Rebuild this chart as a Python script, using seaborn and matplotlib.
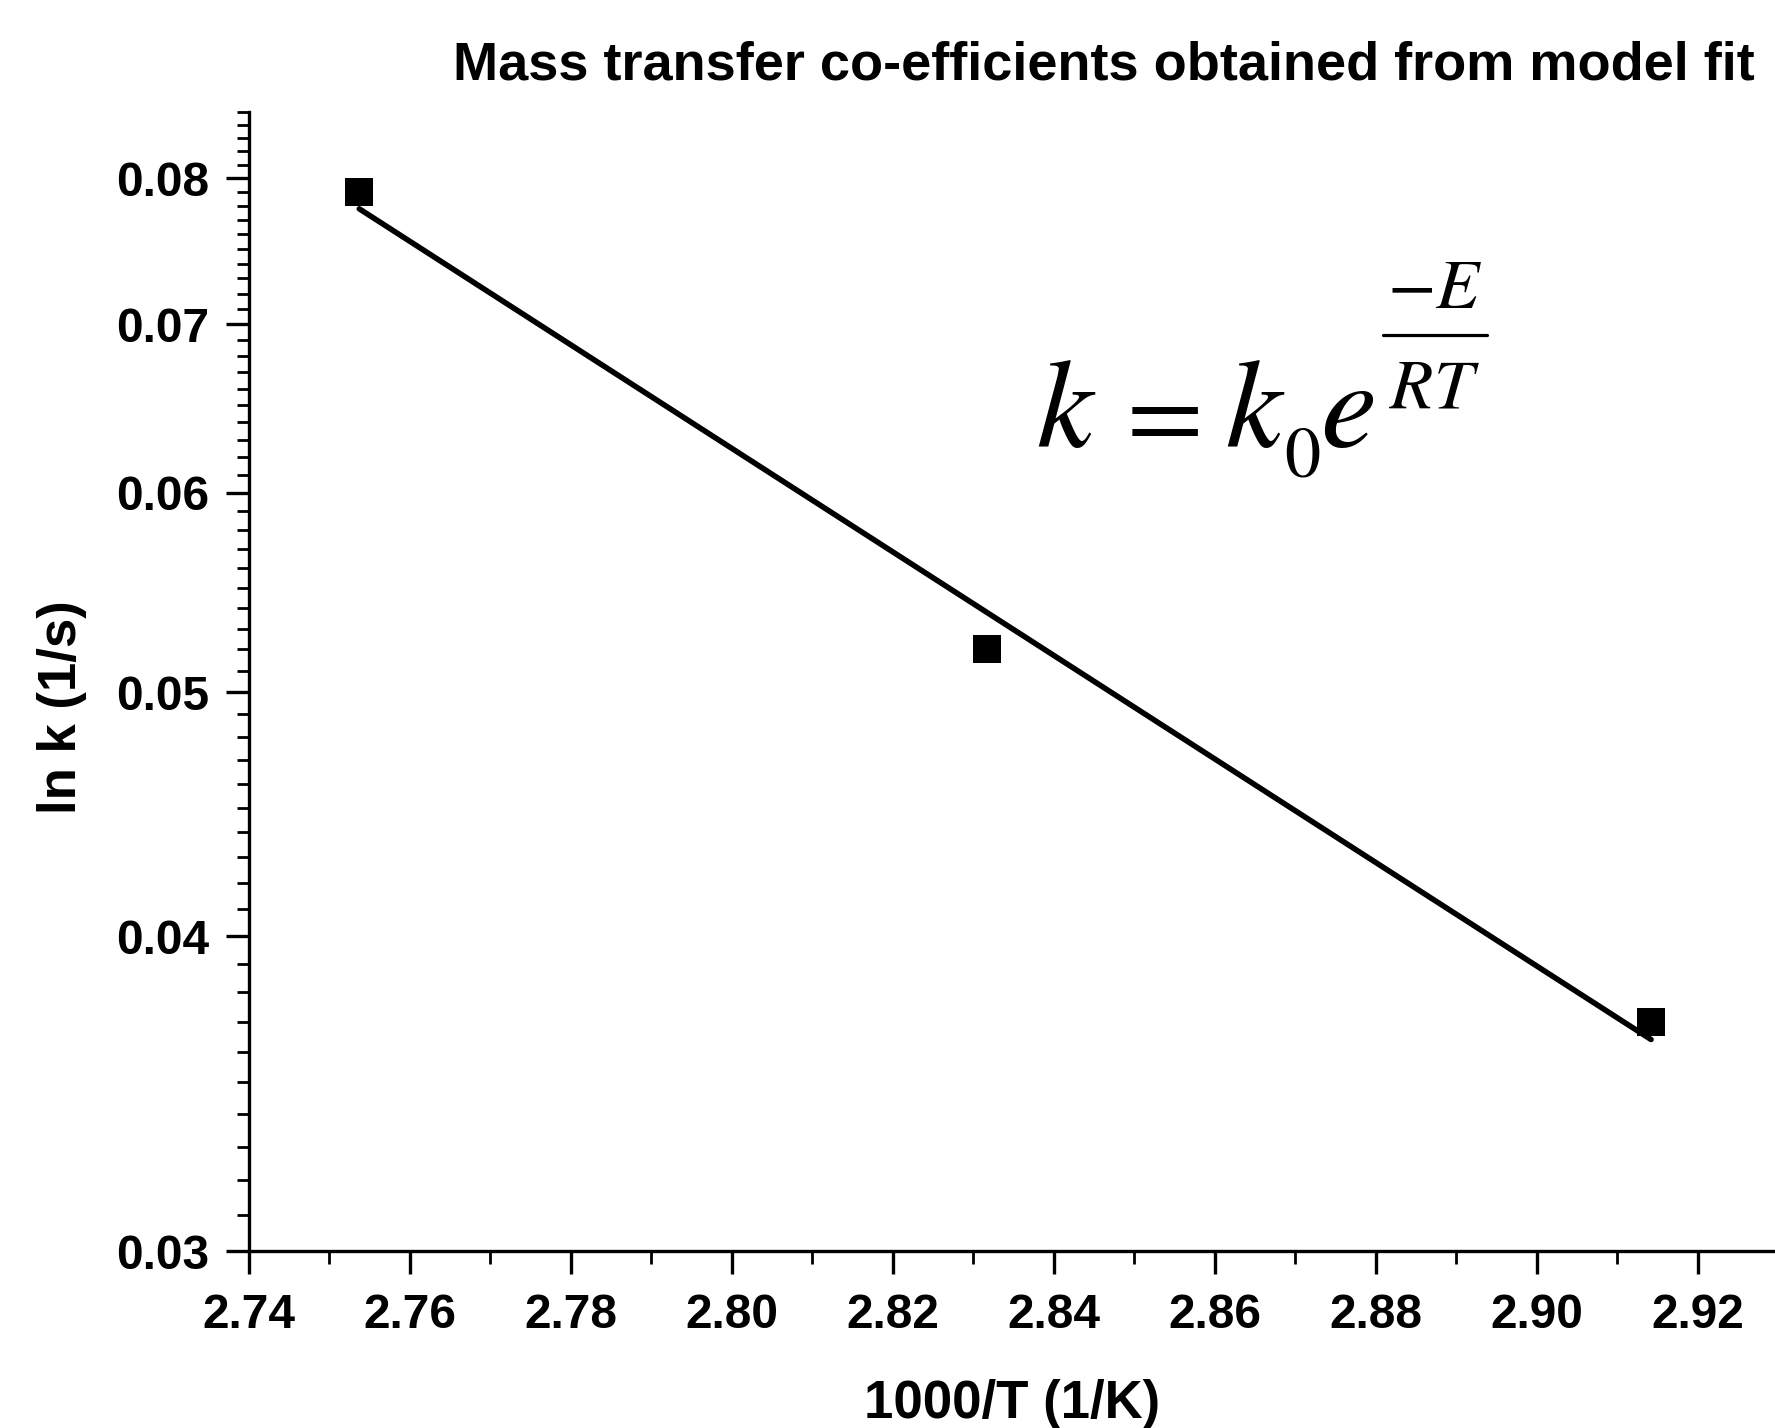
import matplotlib
matplotlib.use("Agg")
import matplotlib.pyplot as plt
import seaborn as sns
import pandas as pd
from matplotlib.lines import Line2D
from matplotlib.ticker import FixedLocator, MultipleLocator, FixedFormatter, NullFormatter

# Data
inv_T = [2.7537, 2.8317, 2.9142]          # 1000/T (1/K)
k_vals = [0.0790, 0.0520, 0.0370]         # k (1/s)
fit_x = [2.7537, 2.9142]                  # fitted line end points
fit_y = [0.0778, 0.0364]

x_ticks = [2.74, 2.76, 2.78, 2.80, 2.82, 2.84, 2.86, 2.88, 2.90, 2.92]
x_tick_labels = ["2.74", "2.76", "2.78", "2.80", "2.82", "2.84", "2.86", "2.88", "2.90", "2.92"]
y_ticks = [0.03, 0.04, 0.05, 0.06, 0.07, 0.08]
y_tick_labels = ["0.03", "0.04", "0.05", "0.06", "0.07", "0.08"]

title = "Mass transfer co-efficients obtained from model fit"
xlabel = "1000/T (1/K)"
ylabel = "ln k (1/s)"

pts = pd.DataFrame({"x": inv_T, "k": k_vals})
fit = pd.DataFrame({"x": fit_x, "k": fit_y})

sns.set_theme(style="ticks")
plt.rcParams["font.family"] = ["Liberation Sans", "DejaVu Sans"]
plt.rcParams["text.color"] = "black"
plt.rcParams["axes.labelcolor"] = "black"
plt.rcParams["xtick.color"] = "black"
plt.rcParams["ytick.color"] = "black"

W, H = 1775, 1428
fig = plt.figure(figsize=(W / 100, H / 100), dpi=100)
fig.patch.set_facecolor("white")
ax = fig.add_axes([249 / W, 1 - 1251 / H, 1 - 249 / W, (1251 - 112) / H])
ax.set_facecolor("white")

sns.lineplot(data=fit, x="x", y="k", ax=ax, color="black", linewidth=4.0, estimator=None, sort=False)
sns.scatterplot(data=pts, x="x", y="k", ax=ax, marker="s", s=380, color="black", linewidth=0, zorder=3)

ax.set_yscale("log")
ax.set_xlim(2.74, 2.9296)
ax.set_ylim(0.03, 0.085)

ax.xaxis.set_major_locator(FixedLocator(x_ticks))
ax.xaxis.set_major_formatter(FixedFormatter(x_tick_labels))
ax.xaxis.set_minor_locator(MultipleLocator(0.01))
ax.yaxis.set_major_locator(FixedLocator(y_ticks))
ax.yaxis.set_major_formatter(FixedFormatter(y_tick_labels))
ax.yaxis.set_minor_locator(MultipleLocator(0.001))
ax.yaxis.set_minor_formatter(NullFormatter())

for s in ["top", "right"]:
    ax.spines[s].set_visible(False)
for s in ["left", "bottom"]:
    ax.spines[s].set_linewidth(2.4)
    ax.spines[s].set_color("black")

ax.tick_params(axis="both", which="major", direction="out", length=16.5, width=2.4, colors="black", labelsize=34.5)
ax.tick_params(axis="both", which="minor", direction="out", length=9, width=2.0, colors="black")
ax.tick_params(axis="x", which="major", pad=14)
ax.tick_params(axis="y", which="major", pad=12)
for lab in ax.get_xticklabels() + ax.get_yticklabels():
    lab.set_fontweight("bold")
    lab.set_color("black")

ax.set_xlabel(xlabel, fontsize=38, fontweight="bold", va="center", color="black")
ax.set_ylabel(ylabel, fontsize=38, fontweight="bold", va="center", color="black")
ax.xaxis.set_label_coords(0.5, -(1404 - 1251) / 1139)
ax.yaxis.set_label_coords((62 - 249) / 1526, 1 - (707 - 112) / 1139)

fig.text(1755 / W, 1 - 66 / H, title, ha="right", va="center", fontsize=39,
         fontweight="bold", color="black")

# Arrhenius expression  k = k0 e^(-E/RT), typeset piece by piece
def ftxt(x, y, s, size, ha="left"):
    fig.text(x / W, 1 - y / H, s, ha=ha, va="baseline", fontsize=size,
             fontweight="normal", math_fontfamily="stix", color="black")

ftxt(1036, 447, r"$k$", 91)
ftxt(1154, 447, r"$=$", 80, ha="center")
ftxt(1225, 447, r"$k$", 91)
ftxt(1284, 477, r"$0$", 52)
ftxt(1320, 447, r"$e$", 91)
ftxt(1434.5, 308, r"$-E$", 51, ha="center")
ftxt(1434.5, 408, r"$RT$", 51, ha="center")
fig.add_artist(Line2D([1383 / W, 1487 / W], [1 - 335 / H, 1 - 335 / H],
                      transform=fig.transFigure, color="black", linewidth=2.3))

fig.savefig("out.png", dpi=100, facecolor="white")
